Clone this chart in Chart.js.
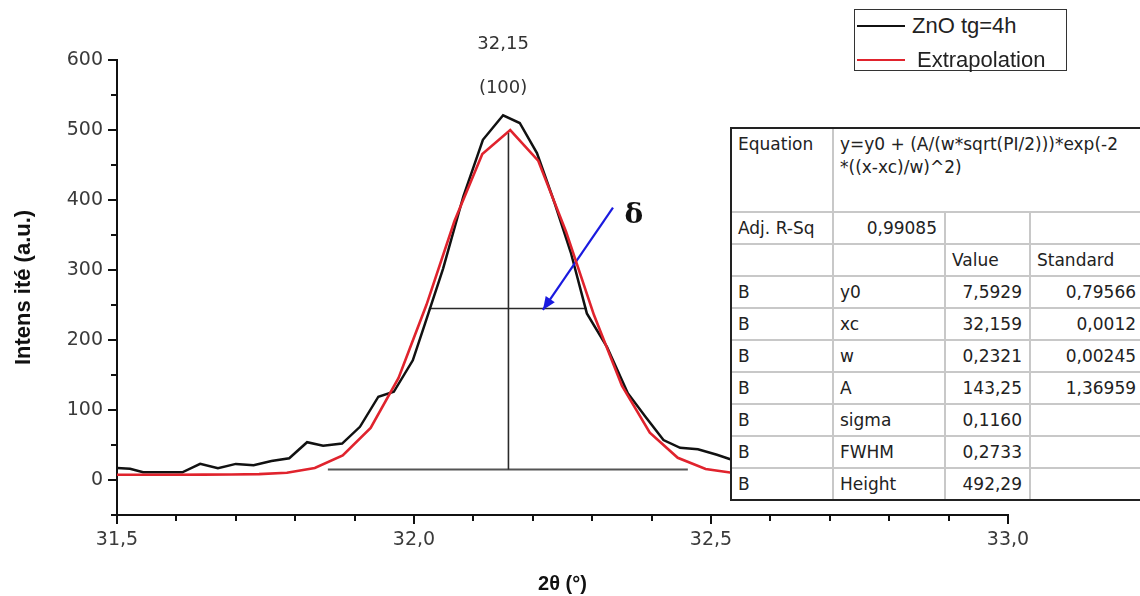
<!DOCTYPE html>
<html>
<head>
<meta charset="utf-8">
<script src="https://cdn.jsdelivr.net/npm/chart.js@4.4.1/dist/chart.umd.min.js"></script>
<style>
  html, body { margin: 0; padding: 0; background: #fff; }
  #wrap { position: relative; width: 1140px; height: 596px; overflow: hidden; }
  #c { position: absolute; left: 0; top: 0; }
  #legend {
    position: absolute; left: 854px; top: 9px; width: 213px; height: 62px;
    border: 1.5px solid #333; box-sizing: border-box; background: #fff;
    font-family: "Liberation Sans", Arial, sans-serif; font-size: 22px; color: #222;
  }
  #legend .row { position: absolute; left: 0; height: 30px; }
  #legend .swatch { position: absolute; left: 2px; width: 48px; height: 0; border-top: 2.5px solid; }
  #legend .txt { position: absolute; white-space: nowrap; line-height: 30px; }
  #fit {
    position: absolute; left: 730px; top: 127px; width: 412px;
    border-left: 2px solid #222; border-top: 2px solid #222; border-bottom: 2px solid #222;
    background: #fff;
  }
  #fit table { border-collapse: collapse; table-layout: fixed; width: 412px;
    font-family: "DejaVu Sans", Verdana, sans-serif; font-size: 17px; color: #222; }
  #fit td { border-right: 2px solid #c8c8c8; border-bottom: 2px solid #c8c8c8;
    padding: 0 7px 0 6px; height: 30px; white-space: nowrap; overflow: visible; }
  #fit tr:last-child td { border-bottom: none; }
  #fit td.num { text-align: right; }
  #fit td.eq { vertical-align: top; padding-top: 4px; height: 78px; line-height: 23px; }
</style>
</head>
<body>
<div id="wrap">
  <canvas id="c" width="1140" height="596"></canvas>
  <div id="legend"></div>
  <div id="fit"></div>
</div>
<script>
// Measured diffraction profile around the (100) reflection
const thetaMeasured = [31.500, 31.522, 31.544, 31.610, 31.640, 31.670, 31.700, 31.730, 31.760, 31.790,
  31.820, 31.847, 31.879, 31.909, 31.940, 31.966, 31.998, 32.018, 32.049, 32.083,
  32.116, 32.150, 32.178, 32.207, 32.237, 32.264, 32.291, 32.325, 32.360, 32.390,
  32.420, 32.448, 32.478, 32.510, 32.535, 32.560];
const intensityMeasured = [17, 16, 11, 11, 23, 17, 23, 21, 27, 31,
  54, 49, 52, 76, 119, 126, 171, 222, 302, 405,
  486, 521, 510, 467, 395, 325, 238, 190, 124, 90,
  57, 46, 44, 36, 29, 25];

// Gaussian fit curve
const thetaFit = [31.500, 31.598, 31.645, 31.692, 31.739, 31.786, 31.833, 31.880, 31.927, 31.974,
  32.021, 32.068, 32.115, 32.162, 32.209, 32.256, 32.303, 32.350, 32.397, 32.444,
  32.491, 32.538, 32.585];
const intensityFit = [7.6, 7.6, 7.7, 7.9, 8.4, 10.4, 17.1, 35.0, 74.4, 145.8,
  250.3, 369.6, 465.7, 499.9, 456.3, 354.7, 235.6, 134.7, 67.7, 31.7,
  15.8, 10.0, 8.3];

// Construction lines: peak centre, baseline, half-maximum width, arrow
const peakCentre = [[32.159, 15], [32.159, 496]];
const baseline = [[31.855, 15], [32.461, 15]];
const halfWidth = [[32.025, 245], [32.291, 245]];
const deltaArrow = [[32.335, 389], [32.217, 243]];

const seriesNames = ['ZnO tg=4h', 'Extrapolation'];
const peakTexts = ['32,15', '(100)'];
const deltaText = 'δ';

// Fit result table
const eqText = ['y=y0 + (A/(w*sqrt(PI/2)))*exp(-2', '*((x-xc)/w)^2)'];
const adjR2 = '0,99085';
const fitHeader = ['', '', 'Value', 'Standard'];
const fitRows = [
  ['B', 'y0', '7,5929', '0,79566'],
  ['B', 'xc', '32,159', '0,0012'],
  ['B', 'w', '0,2321', '0,00245'],
  ['B', 'A', '143,25', '1,36959'],
  ['B', 'sigma', '0,1160', ''],
  ['B', 'FWHM', '0,2733', ''],
  ['B', 'Height', '492,29', '']
];

const xMin = 31.5, xMax = 33.0, xStep = 0.1;
const yMin = -50, yMax = 600, yStep = 50;

const pairs = (xs, ys) => xs.map((x, i) => ({ x: x, y: ys[i] }));
const toPts = arr => arr.map(p => ({ x: p[0], y: p[1] }));
const isMajorX = v => Math.abs(v * 2 - Math.round(v * 2)) < 1e-6;
const isMajorY = v => Math.abs(v / 100 - Math.round(v / 100)) < 1e-6 && v >= 0;

const tickMarks = {
  id: 'tickMarks',
  afterDraw(chart) {
    const ctx = chart.ctx, xs = chart.scales.x, ys = chart.scales.y;
    ctx.save();
    ctx.strokeStyle = '#111';
    ctx.lineWidth = 2;
    xs.ticks.forEach(t => {
      const p = Math.round(xs.getPixelForValue(t.value));
      const len = isMajorX(t.value) ? 9 : 6;
      ctx.beginPath(); ctx.moveTo(p, xs.top); ctx.lineTo(p, xs.top + len); ctx.stroke();
    });
    ys.ticks.forEach(t => {
      const p = Math.round(ys.getPixelForValue(t.value));
      const len = isMajorY(t.value) ? 9 : 6;
      ctx.beginPath(); ctx.moveTo(ys.right, p); ctx.lineTo(ys.right - len, p); ctx.stroke();
    });
    ctx.restore();
  }
};

const notes = {
  id: 'notes',
  afterDatasetsDraw(chart) {
    const ctx = chart.ctx, xs = chart.scales.x, ys = chart.scales.y;
    ctx.save();
    // arrow head at the end of the arrow dataset
    const m = chart.getDatasetMeta(5).data;
    const a = m[0], b = m[1];
    const ang = Math.atan2(b.y - a.y, b.x - a.x);
    const L = 13, W = 5.5;
    ctx.fillStyle = '#1a1adf';
    ctx.beginPath();
    ctx.moveTo(b.x, b.y);
    ctx.lineTo(b.x - L * Math.cos(ang) + W * Math.sin(ang), b.y - L * Math.sin(ang) - W * Math.cos(ang));
    ctx.lineTo(b.x - L * Math.cos(ang) - W * Math.sin(ang), b.y - L * Math.sin(ang) + W * Math.cos(ang));
    ctx.closePath();
    ctx.fill();
    // delta symbol
    ctx.fillStyle = '#111';
    ctx.font = 'bold 28px "DejaVu Serif", "Liberation Serif", serif';
    ctx.textAlign = 'center';
    ctx.textBaseline = 'middle';
    ctx.fillText(deltaText, xs.getPixelForValue(32.37), ys.getPixelForValue(378));
    // peak position and Miller index
    ctx.fillStyle = '#333';
    ctx.font = '18px "DejaVu Sans", Verdana, sans-serif';
    ctx.fillText(peakTexts[0], xs.getPixelForValue(32.15), ys.getPixelForValue(623));
    ctx.fillText(peakTexts[1], xs.getPixelForValue(32.15), ys.getPixelForValue(560));
    ctx.restore();
  }
};

const guide = (pts, color, width) => ({
  data: toPts(pts), borderColor: color, borderWidth: width, pointRadius: 0,
  tension: 0, fill: false, order: 3
});

new Chart(document.getElementById('c'), {
  type: 'line',
  data: {
    datasets: [
      { label: seriesNames[0], data: pairs(thetaMeasured, intensityMeasured), borderColor: '#111',
        borderWidth: 2.5, pointRadius: 0, tension: 0, fill: false, order: 1 },
      { label: seriesNames[1], data: pairs(thetaFit, intensityFit), borderColor: '#e0232d',
        borderWidth: 2.6, pointRadius: 0, tension: 0, fill: false, order: 0 },
      guide(peakCentre, '#2a2a2a', 1.6),
      guide(baseline, '#555', 2),
      guide(halfWidth, '#2a2a2a', 1.6),
      { data: toPts(deltaArrow), borderColor: '#1a1adf', borderWidth: 2.2, pointRadius: 0,
        tension: 0, fill: false, order: 0 }
    ]
  },
  options: {
    responsive: false,
    animation: false,
    layout: { padding: { top: 60, right: 132, left: 0, bottom: 0 } },
    plugins: { legend: { display: false }, tooltip: { enabled: false } },
    scales: {
      x: {
        type: 'linear', min: xMin, max: xMax,
        afterFit: s => { s.height = 81; },
        border: { display: true, color: '#111', width: 2 },
        grid: { display: true, drawOnChartArea: false, drawTicks: true, tickLength: 9, tickColor: 'rgba(0,0,0,0)' },
        ticks: {
          stepSize: xStep, autoSkip: false, maxRotation: 0, padding: 5,
          color: '#3a3a3a', font: { family: '"DejaVu Sans", Verdana, sans-serif', size: 19 },
          callback: v => isMajorX(v) ? v.toFixed(1).replace('.', ',') : ''
        },
        title: { display: true, text: '2θ (°)', color: '#111', padding: { top: 0, bottom: 0 },
          font: { family: '"Liberation Sans", Arial, sans-serif', size: 20, weight: 'bold' } }
      },
      y: {
        type: 'linear', min: yMin, max: yMax,
        afterFit: s => { s.width = 117; },
        border: { display: true, color: '#111', width: 2 },
        grid: { display: true, drawOnChartArea: false, drawTicks: true, tickLength: 9, tickColor: 'rgba(0,0,0,0)' },
        ticks: {
          stepSize: yStep, autoSkip: false, padding: 5,
          color: '#3a3a3a', font: { family: '"DejaVu Sans", Verdana, sans-serif', size: 19 },
          callback: v => isMajorY(v) ? String(Math.round(v)) : ''
        },
        title: { display: true, text: 'Intens ité (a.u.)', color: '#111', padding: { top: 11, bottom: 0 },
          font: { family: '"Liberation Sans", Arial, sans-serif', size: 22, weight: 'bold' } }
      }
    }
  },
  plugins: [tickMarks, notes]
});

// legend
const legendColors = ['#111', '#e0232d'];
const lg = document.getElementById('legend');
seriesNames.forEach((name, i) => {
  const row = document.createElement('div');
  row.className = 'row';
  row.style.top = (i === 0 ? 1 : 35) + 'px';
  row.style.width = '100%';
  const sw = document.createElement('div');
  sw.className = 'swatch';
  sw.style.borderColor = legendColors[i];
  sw.style.top = '14px';
  const tx = document.createElement('div');
  tx.className = 'txt';
  tx.style.left = (i === 0 ? 57 : 62) + 'px';
  tx.textContent = name;
  row.appendChild(sw); row.appendChild(tx);
  lg.appendChild(row);
});

// fit table
const colW = [101, 112, 85, 114];
const tbl = document.createElement('table');
const cg = document.createElement('colgroup');
colW.forEach(w => { const c = document.createElement('col'); c.style.width = w + 'px'; cg.appendChild(c); });
tbl.appendChild(cg);
function addRow(cells, numCols) {
  const tr = document.createElement('tr');
  cells.forEach((txt, j) => {
    const td = document.createElement('td');
    td.textContent = txt;
    if (numCols.indexOf(j) >= 0) td.className = 'num';
    tr.appendChild(td);
  });
  tbl.appendChild(tr);
  return tr;
}
{
  const tr = document.createElement('tr');
  const t1 = document.createElement('td'); t1.className = 'eq'; t1.textContent = 'Equation';
  const t2 = document.createElement('td'); t2.className = 'eq'; t2.colSpan = 3;
  t2.innerHTML = eqText[0] + '<br>' + eqText[1];
  tr.appendChild(t1); tr.appendChild(t2); tbl.appendChild(tr);
}
addRow(['Adj. R-Sq', adjR2, '', ''], [1]);
addRow(fitHeader, []);
fitRows.forEach(r => addRow(r, [2, 3]));
const trs = tbl.querySelectorAll('tr');
trs.forEach((tr, i) => { if (i > 0) tr.querySelectorAll('td').forEach(td => { td.style.height = '30px'; }); });
document.getElementById('fit').appendChild(tbl);
</script>
</body>
</html>
